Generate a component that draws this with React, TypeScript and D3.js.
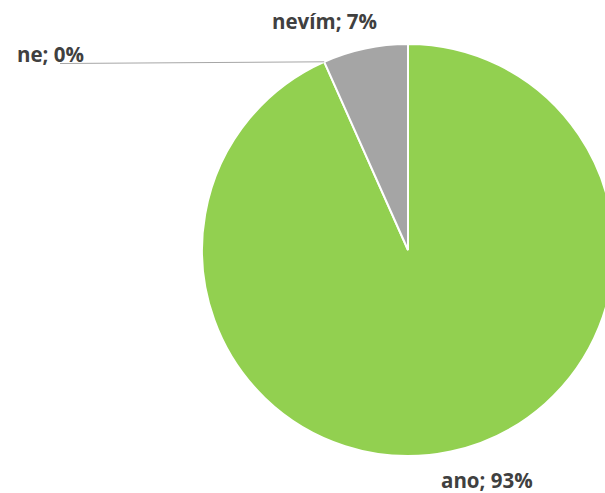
import React, { useEffect, useRef } from 'react';
import * as d3 from 'd3';

const categories = ['ano', 'ne', 'nevím'];
const values = [28, 0, 2];
const percentLabels = ['93%', '0%', '7%'];
const colors = ['#92D050', '#C00000', '#A5A5A5'];

const W = 605;
const H = 493;

const App = () => {
  const ref = useRef<SVGSVGElement>(null);

  useEffect(() => {
    const svg = d3.select(ref.current).attr('width', W).attr('height', H);
    svg.selectAll('*').remove();

    const cx = 408;
    const cy = 250;
    const r = 206;

    const pie = d3.pie<number>().sort(null).value((d) => d);
    const arcs = pie(values);
    const arc = d3.arc<d3.PieArcDatum<number>>().innerRadius(0).outerRadius(r);

    const g = svg.append('g').attr('transform', `translate(${cx},${cy})`);

    g.selectAll('path')
      .data(arcs.filter((a) => a.value > 0))
      .enter()
      .append('path')
      .attr('d', arc)
      .attr('fill', (d) => colors[d.index])
      .attr('stroke', 'white')
      .attr('stroke-width', 2);

    // label positions (chart-relative)
    const labelPos = [
      { x: 441, y: 488, leader: false },
      { x: 17, y: 62, leader: true },
      { x: 272, y: 29, leader: false }
    ];

    arcs.forEach((a, i) => {
      const p = labelPos[i];
      if (p.leader) {
        const ang = a.startAngle;
        const ex = cx + r * Math.sin(ang);
        const ey = cy - r * Math.cos(ang);
        svg
          .append('line')
          .attr('x1', 60)
          .attr('y1', 63.5)
          .attr('x2', ex)
          .attr('y2', ey)
          .attr('stroke', '#A6A6A6')
          .attr('stroke-width', 1);
      }
      svg
        .append('text')
        .attr('x', p.x)
        .attr('y', p.y)
        .attr('fill', '#404040')
        .attr('font-family', '"Open Sans", sans-serif')
        .attr('font-weight', 'bold')
        .attr('font-size', 20.5)
        .text(`${categories[i]}; ${percentLabels[i]}`);
    });
  }, []);

  return <svg ref={ref} style={{ position: 'absolute', left: 0, top: 0 }}></svg>;
};

export default App;
